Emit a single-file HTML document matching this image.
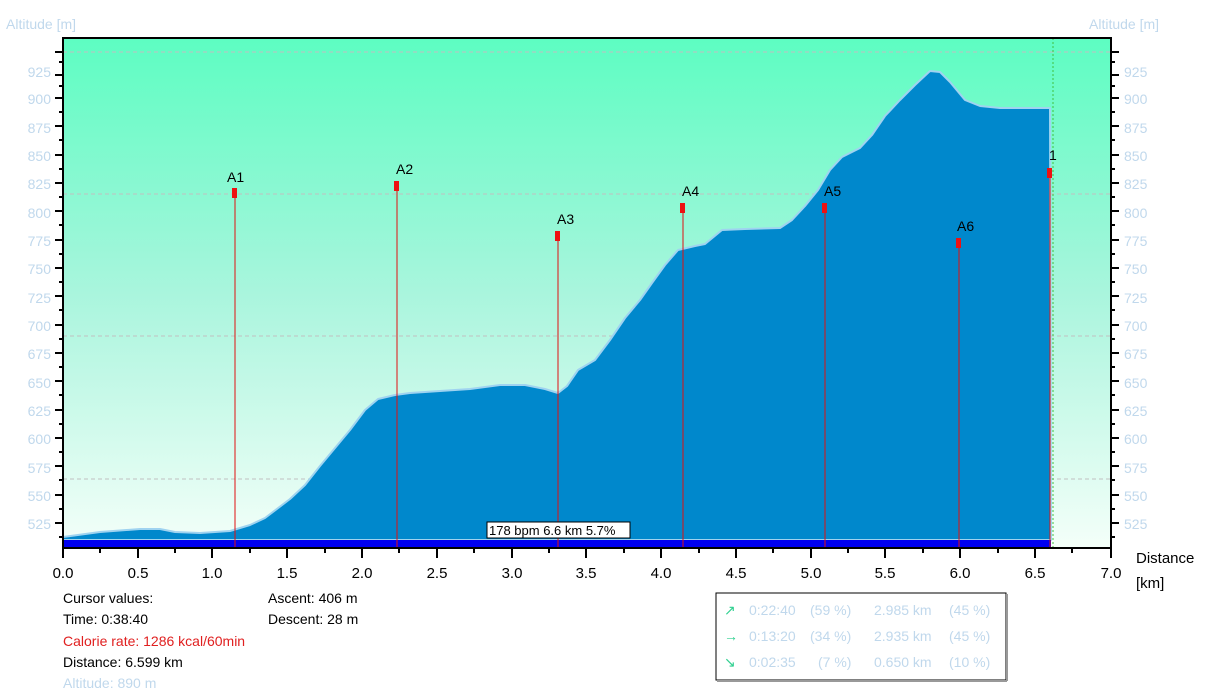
<!DOCTYPE html>
<html><head><meta charset="utf-8"><style>
body{margin:0;background:#fff;width:1206px;height:693px;overflow:hidden;font-family:"Liberation Sans",sans-serif}
</style></head><body>
<svg width="1206" height="693" viewBox="0 0 1206 693" xmlns="http://www.w3.org/2000/svg" font-family="Liberation Sans, sans-serif">
<defs>
<linearGradient id="bg" x1="0" y1="0" x2="0" y2="1">
<stop offset="0" stop-color="#5dfdc2"/>
<stop offset="0.5" stop-color="#a9f5dd"/>
<stop offset="1" stop-color="#f4fff9"/>
</linearGradient>
</defs>
<rect x="63" y="38" width="1048" height="510" fill="url(#bg)"/>
<g stroke="#c0c0c0" stroke-dasharray="4,3" stroke-width="1">
<line x1="63" y1="52" x2="1111" y2="52"/>
<line x1="63" y1="194" x2="1111" y2="194"/>
<line x1="63" y1="336" x2="1111" y2="336"/>
<line x1="63" y1="479" x2="1111" y2="479"/>
</g>
<path d="M63,537 L100,532 L140,529 L160,529 L175,532 L200,533 L230,531 L250,525 L265,518 L290,499 L305,485 L320,466 L335,448 L350,430 L365,410 L378,399 L395,395 L410,393 L440,391 L470,389 L500,385 L525,385 L545,389 L558,393 L567,386 L578,370 L595,360 L610,340 L625,318 L640,300 L652,283 L665,265 L678,250 L695,246 L705,244 L722,230 L745,229 L780,228 L792,220 L805,206 L818,190 L830,170 L842,157 L860,148 L872,135 L885,116 L900,100 L915,85 L930,71 L940,72 L950,82 L965,100 L980,106 L1000,108 L1050,108 L1051,540 L63,540 Z" fill="#0088cc" stroke="#9fd3f0" stroke-width="2" stroke-linejoin="round"/>
<rect x="63" y="540" width="988" height="9" fill="#0000f0"/>
<line x1="1053" y1="38" x2="1053" y2="548" stroke="#40c040" stroke-dasharray="2,2"/>
<g stroke="#e01010" stroke-width="1" fill="#ee1111">
<line x1="235" y1="190" x2="235" y2="548"/><rect x="232" y="188" width="5" height="10" stroke="none"/>
<line x1="397" y1="183" x2="397" y2="548"/><rect x="394" y="181" width="5" height="10" stroke="none"/>
<line x1="558" y1="233" x2="558" y2="548"/><rect x="555" y="231" width="5" height="10" stroke="none"/>
<line x1="683" y1="205" x2="683" y2="548"/><rect x="680" y="203" width="5" height="10" stroke="none"/>
<line x1="825" y1="205" x2="825" y2="548"/><rect x="822" y="203" width="5" height="10" stroke="none"/>
<line x1="959" y1="240" x2="959" y2="548"/><rect x="956" y="238" width="5" height="10" stroke="none"/>
<line x1="1050" y1="170" x2="1050" y2="548"/><rect x="1047" y="168" width="5" height="10" stroke="none"/>
</g>
<g font-size="14" fill="#000">
<text x="227" y="182">A1</text><text x="396" y="174">A2</text><text x="557" y="224">A3</text>
<text x="682" y="196">A4</text><text x="824" y="196">A5</text><text x="957" y="231">A6</text><text x="1049" y="160">1</text>
</g>
<rect x="487" y="522" width="143" height="16" fill="#fff" stroke="#000"/>
<text x="489" y="535" font-size="13">178 bpm 6.6 km 5.7%</text>
<rect x="63" y="38" width="1048" height="510" fill="none" stroke="#000" stroke-width="2"/>
<g stroke="#000" stroke-width="2">
<path d="M55,52h8M59,62h4M55,75h8M59,86h4M55,98h8M59,112h4M55,126h8M59,140h4M55,155h8M59,169h4M55,183h8M59,197h4M55,211h8M59,225h4M55,240h8M59,254h4M55,268h8M59,282h4M55,296h8M59,310h4M55,325h8M59,339h4M55,353h8M59,367h4M55,381h8M59,395h4M55,410h8M59,424h4M55,438h8M59,452h4M55,466h8M59,480h4M55,495h8M59,509h4M55,523h8M59,537h4"/>
<path d="M1111,52h8M1111,62h4M1111,75h8M1111,86h4M1111,98h8M1111,112h4M1111,126h8M1111,140h4M1111,155h8M1111,169h4M1111,183h8M1111,197h4M1111,211h8M1111,225h4M1111,240h8M1111,254h4M1111,268h8M1111,282h4M1111,296h8M1111,310h4M1111,325h8M1111,339h4M1111,353h8M1111,367h4M1111,381h8M1111,395h4M1111,410h8M1111,424h4M1111,438h8M1111,452h4M1111,466h8M1111,480h4M1111,495h8M1111,509h4M1111,523h8M1111,537h4"/>
<path d="M63,548v10M100,548v5M138,548v10M175,548v5M212,548v10M250,548v5M287,548v10M325,548v5M362,548v10M399,548v5M437,548v10M474,548v5M512,548v10M549,548v5M586,548v10M624,548v5M661,548v10M699,548v5M736,548v10M773,548v5M811,548v10M848,548v5M885,548v10M923,548v5M960,548v10M998,548v5M1035,548v10M1072,548v5M1111,548v10"/>
</g>
<g font-size="14" fill="#c0d8ec">
<text x="6" y="29">Altitude [m]</text><text x="1089" y="29">Altitude [m]</text>
</g>
<g font-size="14" fill="#c0d8ec" text-anchor="end">
<text x="51" y="77">925</text><text x="51" y="104">900</text><text x="51" y="133">875</text><text x="51" y="161">850</text><text x="51" y="189">825</text><text x="51" y="218">800</text><text x="51" y="246">775</text><text x="51" y="274">750</text><text x="51" y="303">725</text><text x="51" y="331">700</text><text x="51" y="359">675</text><text x="51" y="388">650</text><text x="51" y="416">625</text><text x="51" y="444">600</text><text x="51" y="473">575</text><text x="51" y="501">550</text><text x="51" y="529">525</text>
</g>
<g font-size="14" fill="#c0d8ec">
<text x="1124" y="77">925</text><text x="1124" y="104">900</text><text x="1124" y="133">875</text><text x="1124" y="161">850</text><text x="1124" y="189">825</text><text x="1124" y="218">800</text><text x="1124" y="246">775</text><text x="1124" y="274">750</text><text x="1124" y="303">725</text><text x="1124" y="331">700</text><text x="1124" y="359">675</text><text x="1124" y="388">650</text><text x="1124" y="416">625</text><text x="1124" y="444">600</text><text x="1124" y="473">575</text><text x="1124" y="501">550</text><text x="1124" y="529">525</text>
</g>
<g font-size="15" fill="#000" text-anchor="middle">
<text x="63" y="578">0.0</text><text x="138" y="578">0.5</text><text x="212" y="578">1.0</text><text x="287" y="578">1.5</text><text x="362" y="578">2.0</text><text x="437" y="578">2.5</text><text x="512" y="578">3.0</text><text x="586" y="578">3.5</text><text x="661" y="578">4.0</text><text x="736" y="578">4.5</text><text x="811" y="578">5.0</text><text x="885" y="578">5.5</text><text x="960" y="578">6.0</text><text x="1035" y="578">6.5</text><text x="1111" y="578">7.0</text>
</g>
<g font-size="15" fill="#000"><text x="1136" y="563">Distance</text><text x="1136" y="588">[km]</text></g>
<g font-size="14">
<text x="63" y="603" fill="#000">Cursor values:</text>
<text x="63" y="624" fill="#000">Time: 0:38:40</text>
<text x="63" y="646" fill="#e02020">Calorie rate: 1286 kcal/60min</text>
<text x="63" y="667" fill="#000">Distance: 6.599 km</text>
<text x="63" y="688" fill="#c0d8ec">Altitude: 890 m</text>
<text x="268" y="603" fill="#000">Ascent: 406 m</text>
<text x="268" y="624" fill="#000">Descent: 28 m</text>
</g>
<rect x="716" y="593" width="290" height="87" fill="#fff" stroke="#000" stroke-width="1"/>
<line x1="717" y1="681" x2="1007" y2="681" stroke="#999" stroke-width="2"/>
<line x1="1007" y1="594" x2="1007" y2="681" stroke="#999" stroke-width="2"/>
<g font-size="14" fill="#c0d8ec">
<text x="724" y="615" fill="#30d090">↗</text><text x="749" y="615">0:22:40</text><text x="810" y="615">(59 %)</text><text x="874" y="615">2.985 km</text><text x="949" y="615">(45 %)</text>
<text x="724" y="641" fill="#30d090">→</text><text x="749" y="641">0:13:20</text><text x="810" y="641">(34 %)</text><text x="874" y="641">2.935 km</text><text x="949" y="641">(45 %)</text>
<text x="724" y="667" fill="#30d090">↘</text><text x="749" y="667">0:02:35</text><text x="818" y="667">(7 %)</text><text x="874" y="667">0.650 km</text><text x="949" y="667">(10 %)</text>
</g>
</svg>
</body></html>
